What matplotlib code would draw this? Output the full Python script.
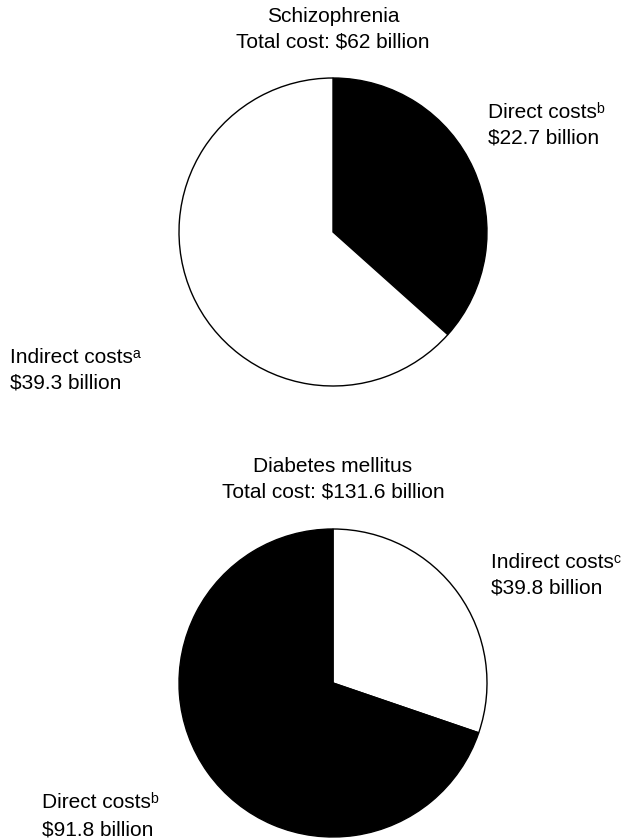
import matplotlib
matplotlib.use('Agg')
import matplotlib.pyplot as plt

plt.rcParams['font.family'] = ['Liberation Sans', 'DejaVu Sans']

# data
titles = ['Schizophrenia', 'Diabetes mellitus']
totals = ['$62 billion', '$131.6 billion']
schiz_values = [22.7, 39.3]        # direct, indirect
schiz_colors = ['black', 'white']
diab_values = [39.8, 91.8]         # indirect, direct
diab_colors = ['white', 'black']

W, H = 625, 840
fig = plt.figure(figsize=(W / 100, H / 100), dpi=100)

def px(x, y):
    return x / W, 1 - y / H

def pie_axes(top):
    left, size = 179, 308
    return fig.add_axes([left / W, 1 - (top + size) / H, size / W, size / H])

def draw_pie(ax, values, colors):
    wedges, _ = ax.pie(values, colors=colors, startangle=90, counterclock=False,
                       wedgeprops=dict(edgecolor='black', linewidth=1))
    for w in wedges:
        w.set_clip_on(False)
    ax.set_xlim(-1, 1)
    ax.set_ylim(-1, 1)
    ax.set_aspect('equal')
    ax.axis('off')

# Schizophrenia pie
ax1 = pie_axes(78)
draw_pie(ax1, schiz_values, schiz_colors)

# Diabetes pie
ax2 = pie_axes(529)
draw_pie(ax2, diab_values, diab_colors)

fs = 15
fig.text(*px(333, 16), titles[0], ha='center', va='center', fontsize=fs)
fig.text(*px(333, 42), 'Total cost: ' + totals[0], ha='center', va='center', fontsize=fs)
fig.text(*px(488, 112), 'Direct costs\u1d47', ha='left', va='center', fontsize=fs)
fig.text(*px(488, 138), '$%.1f billion' % schiz_values[0], ha='left', va='center', fontsize=fs)
fig.text(*px(10, 357), 'Indirect costs\u1d43', ha='left', va='center', fontsize=fs)
fig.text(*px(10, 383), '$%.1f billion' % schiz_values[1], ha='left', va='center', fontsize=fs)

fig.text(*px(333, 466), titles[1], ha='center', va='center', fontsize=fs)
fig.text(*px(333, 492), 'Total cost: ' + totals[1], ha='center', va='center', fontsize=fs)
fig.text(*px(491, 563), 'Indirect costs\u1d9c', ha='left', va='center', fontsize=fs)
fig.text(*px(491, 588), '$%.1f billion' % diab_values[0], ha='left', va='center', fontsize=fs)
fig.text(*px(42, 803), 'Direct costs\u1d47', ha='left', va='center', fontsize=fs)
fig.text(*px(42, 830), '$%.1f billion' % diab_values[1], ha='left', va='center', fontsize=fs)

fig.savefig('out.png', dpi=100, facecolor='white')
